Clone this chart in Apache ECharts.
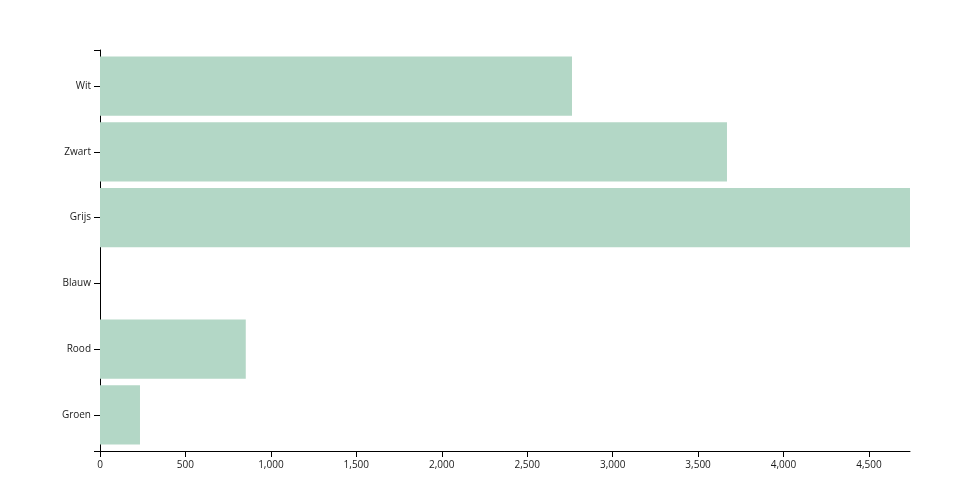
<!DOCTYPE html>
<html>
<head>
<meta charset="utf-8">
<script src="https://cdn.jsdelivr.net/npm/echarts@6/dist/echarts.min.js"></script>
<style>
  html, body { margin: 0; padding: 0; background: #fff; }
  #chart { width: 960px; height: 500px; }
</style>
</head>
<body>
<div id="chart"></div>
<script>
const categories = ['Wit', 'Zwart', 'Grijs', 'Blauw', 'Rood', 'Groen']
const values = [2762, 3669, 4740, 0, 853, 234]
const axisMax = 4740
const tickStep = 500

const fontFamily = '"Open Sans", sans-serif'
const chart = echarts.init(document.getElementById('chart'))

chart.setOption({
  animation: false,
  grid: [
    // bars: band area with outer padding like a d3 band scale
    { left: 100, right: 50, top: 53.3, bottom: 52.3 },
    // axis frame
    { left: 100, right: 50, top: 50, bottom: 49 }
  ],
  xAxis: [
    {
      gridIndex: 0,
      type: 'value',
      min: 0,
      max: axisMax,
      show: false
    },
    {
      gridIndex: 1,
      type: 'value',
      min: 0,
      max: axisMax,
      interval: tickStep,
      axisLine: { show: true, lineStyle: { color: '#000', width: 1 } },
      axisTick: { show: true, length: 6, lineStyle: { color: '#000' } },
      splitLine: { show: false },
      axisLabel: {
        margin: 9,
        showMaxLabel: false,
        color: '#1a1a1a',
        fontSize: 10,
        fontFamily: fontFamily,
        formatter: v => v.toLocaleString('en-US')
      }
    }
  ],
  yAxis: [
    {
      gridIndex: 0,
      type: 'category',
      inverse: true,
      data: categories,
      axisLine: { show: false },
      axisTick: { show: true, alignWithLabel: true, length: 6, lineStyle: { color: '#000' } },
      axisLabel: {
        margin: 9,
        color: '#1a1a1a',
        fontSize: 10,
        fontFamily: fontFamily
      }
    },
    {
      gridIndex: 1,
      type: 'value',
      min: 0,
      max: 1,
      interval: 1,
      axisLine: { show: true, lineStyle: { color: '#000', width: 1 } },
      axisTick: { show: true, length: 6, lineStyle: { color: '#000' } },
      axisLabel: { show: false },
      splitLine: { show: false }
    }
  ],
  series: [
    {
      type: 'bar',
      xAxisIndex: 0,
      yAxisIndex: 0,
      data: values,
      barCategoryGap: '10%',
      itemStyle: {
        color: '#b3d7c6'
      }
    }
  ]
})
</script>
</body>
</html>
